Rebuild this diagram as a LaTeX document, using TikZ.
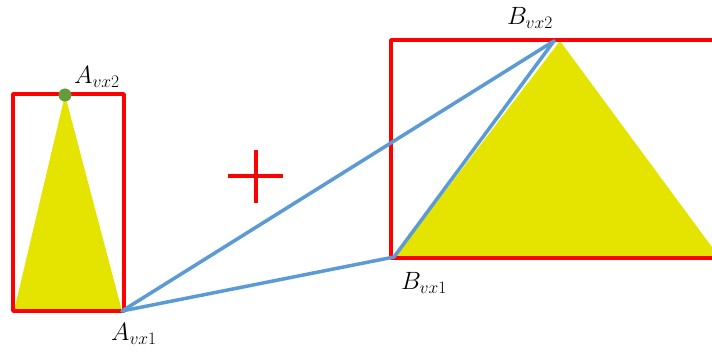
\documentclass[tikz,border=0pt]{standalone}
\usepackage{fix-cm}
\definecolor{triyel}{RGB}{228,228,0}
\definecolor{dotgreen}{RGB}{100,155,60}
\definecolor{linkblue}{RGB}{91,155,213}
\begin{document}
\begin{tikzpicture}[x=1pt,y=-1pt,
  redline/.style={draw=red, line width=3.5pt, line join=round},
  fillyel/.style={fill=triyel},
  blueline/.style={draw=linkblue, line width=3.5pt, line join=round, line cap=round},
  lbl/.style={font=\fontsize{25}{28}\selectfont, inner sep=0pt}]
\useasboundingbox (0,0) rectangle (712,352);
% left rectangle & triangle
\coordinate (Av1) at (122,311);
\coordinate (Av2) at (65,95);
\fill[fillyel] (14,311) -- (Av2) -- (Av1) -- cycle;
\draw[redline] (13,94) rectangle (124,311);
\fill[dotgreen] (Av2) circle (6.5);
% right rectangle & triangle
\coordinate (Bv1) at (394,257);
\coordinate (Bv2) at (554,41);
\fill[fillyel] (394,258) -- (560,41) -- (720,258) -- cycle;
\draw[redline] (730,40) -- (391,40) -- (391,258) -- (730,258);
% plus
\draw[red, line width=3.5pt] (228,176) -- (283,176);
\draw[red, line width=3.5pt] (256,150) -- (256,203);
% blue connectors
\draw[blueline] (Av1) -- (Bv2);
\draw[blueline] (Av1) -- (Bv1);
\draw[blueline] (Bv1) -- (Bv2);
% labels
\node[lbl] (la2) at (97,77) {$A_{vx2}$};
\node[lbl] (la1) at (134,334) {$A_{vx1}$};
\node[lbl] (lb2) at (530,18) {$B_{vx2}$};
\node[lbl] (lb1) at (424,283) {$B_{vx1}$};
\end{tikzpicture}
\end{document}
